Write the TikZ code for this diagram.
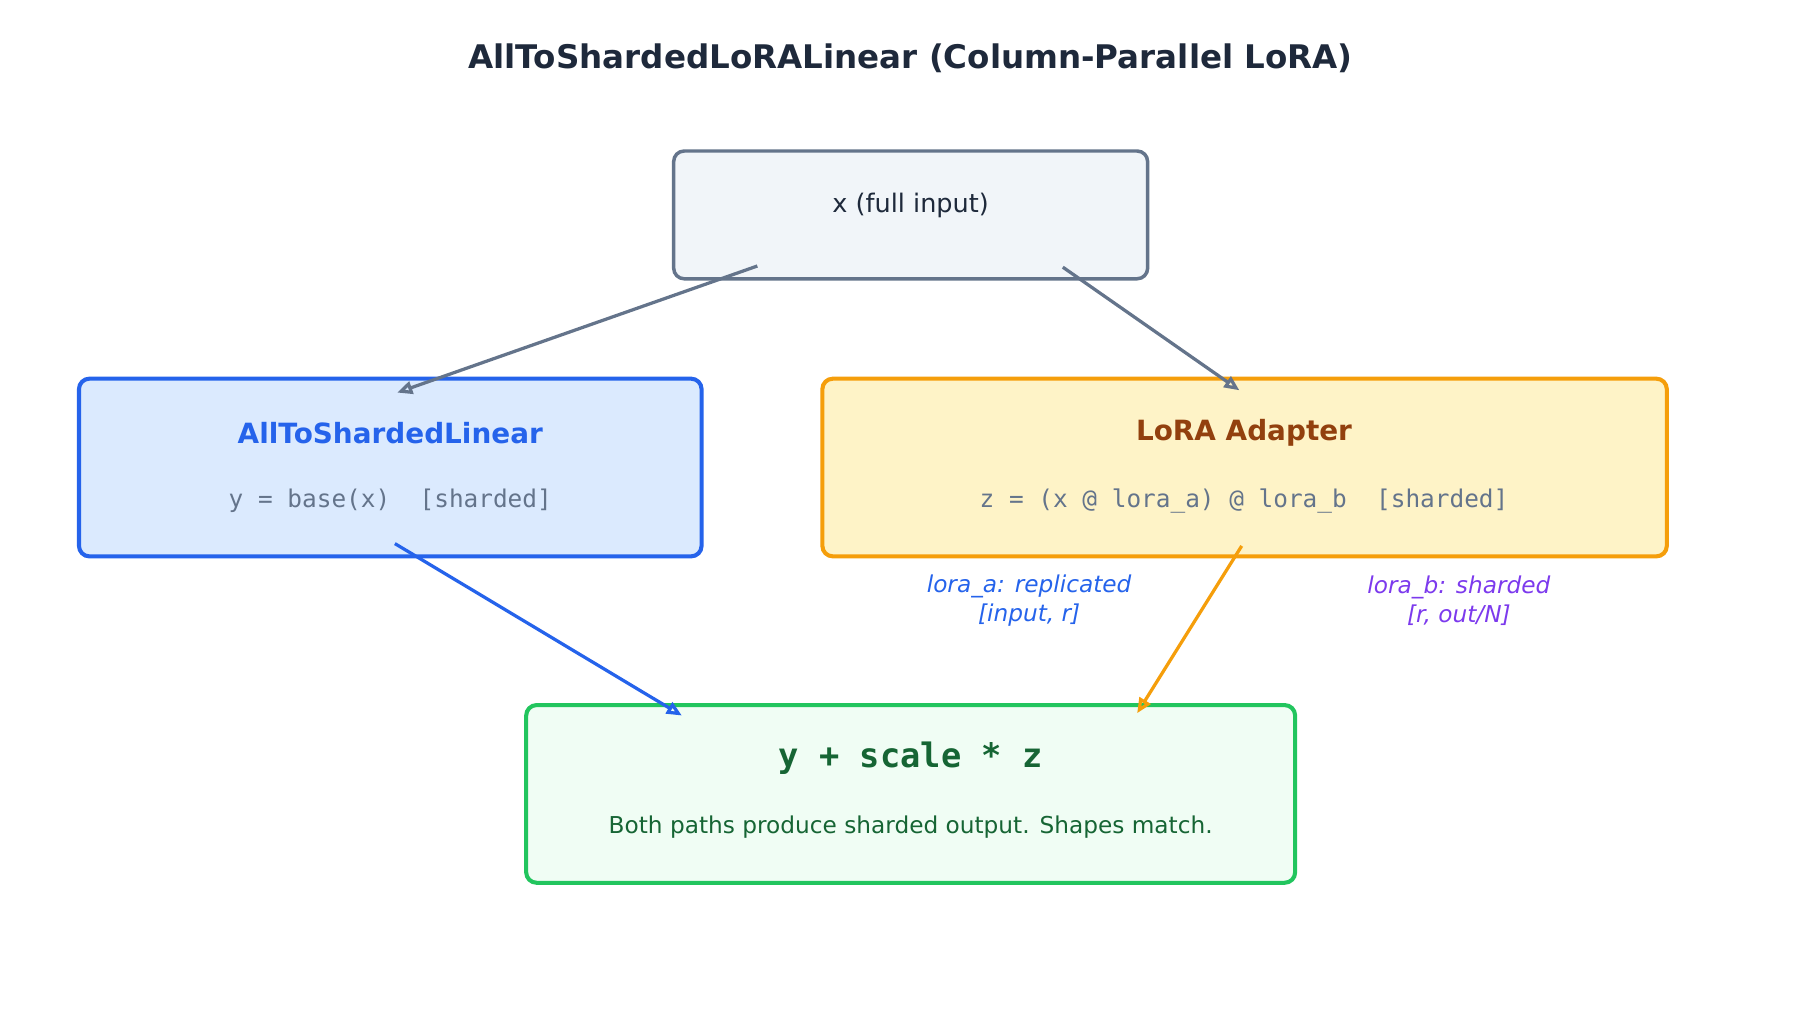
\documentclass[tikz,border=0pt]{standalone}
\usepackage{fontspec}
\setmainfont{DejaVu Sans}
\setmonofont{DejaVu Sans Mono}
\usetikzlibrary{arrows.meta}
\definecolor{slate}{HTML}{64748B}\definecolor{slatef}{HTML}{F1F5F9}
\definecolor{bl}{HTML}{2563EB}\definecolor{blf}{HTML}{DBEAFE}
\definecolor{orr}{HTML}{F59E0B}\definecolor{orf}{HTML}{FEF3C7}\definecolor{ort}{HTML}{92400E}
\definecolor{gr}{HTML}{22C55E}\definecolor{grf}{HTML}{F0FDF4}\definecolor{grt}{HTML}{166534}
\definecolor{pu}{HTML}{7C3AED}\definecolor{ttl}{HTML}{1E293B}
\tikzset{box/.style={draw,rounded corners=9pt,line width=3.5pt},
arr/.style={line width=2.8pt,-{Stealth[length=13pt,width=11pt,inset=0pt,open]}},
f/.style={font=\fontsize{#1}{#1}\selectfont}}
\begin{document}
\begin{tikzpicture}[x=1pt,y=-1pt]
\useasboundingbox (0,0) rectangle (1560,871);
\draw[box,slate,fill=slatef,line width=3pt] (580,130) rectangle (988,240);
\draw[box,bl,fill=blf] (68,326) rectangle (604,479);
\draw[box,orr,fill=orf] (708,326) rectangle (1435,479);
\draw[box,gr,fill=grf] (453,607) rectangle (1115,760);
\node[f=28,ttl,font=\bfseries\fontsize{28}{28}\selectfont] (t) at (784,50) {AllToShardedLoRALinear (Column-Parallel LoRA)};
\node[f=22,ttl] (x) at (784,177) {x (full input)};
\node[bl,font=\bfseries\fontsize{24}{24}\selectfont] (h1) at (336,373) {AllToShardedLinear};
\node[slate,font=\ttfamily\fontsize{21}{21}\selectfont] (m1) at (336,431) {y = base(x)\ \ [sharded]};
\node[ort,font=\bfseries\fontsize{24}{24}\selectfont] (h2) at (1071,373) {LoRA Adapter};
\node[slate,font=\ttfamily\fontsize{21}{21}\selectfont] (m2) at (1071,431) {z = (x @ lora\_a) @ lora\_b\ \ [sharded]};
\node[grt,font=\ttfamily\bfseries\fontsize{29}{29}\selectfont] (h3) at (784,653) {y + scale * z};
\node[grt,font=\fontsize{20}{20}\selectfont] (m3) at (784,712) {Both paths produce sharded output. Shapes match.};
\node[bl,font=\itshape\fontsize{20}{25}\selectfont,align=center] (la) at (886,517) {lora\_a: replicated\\{}[input, r]};
\node[pu,font=\itshape\fontsize{20}{25}\selectfont,align=center] (lb) at (1256,517) {lora\_b: sharded\\{}[r, out/N]};
\coordinate (xa) at (652,229); \coordinate (xb) at (915,230);
\coordinate (ba) at (342,338); \coordinate (bb) at (1067,336);
\coordinate (ya) at (340,468); \coordinate (za) at (1069,470);
\coordinate (ga) at (587,616); \coordinate (gb) at (979,614);
\draw[arr,slate] (xa) -- (ba);
\draw[arr,slate] (xb) -- (bb);
\draw[arr,bl] (ya) -- (ga);
\draw[arr,orr] (za) -- (gb);
\end{tikzpicture}
\end{document}
